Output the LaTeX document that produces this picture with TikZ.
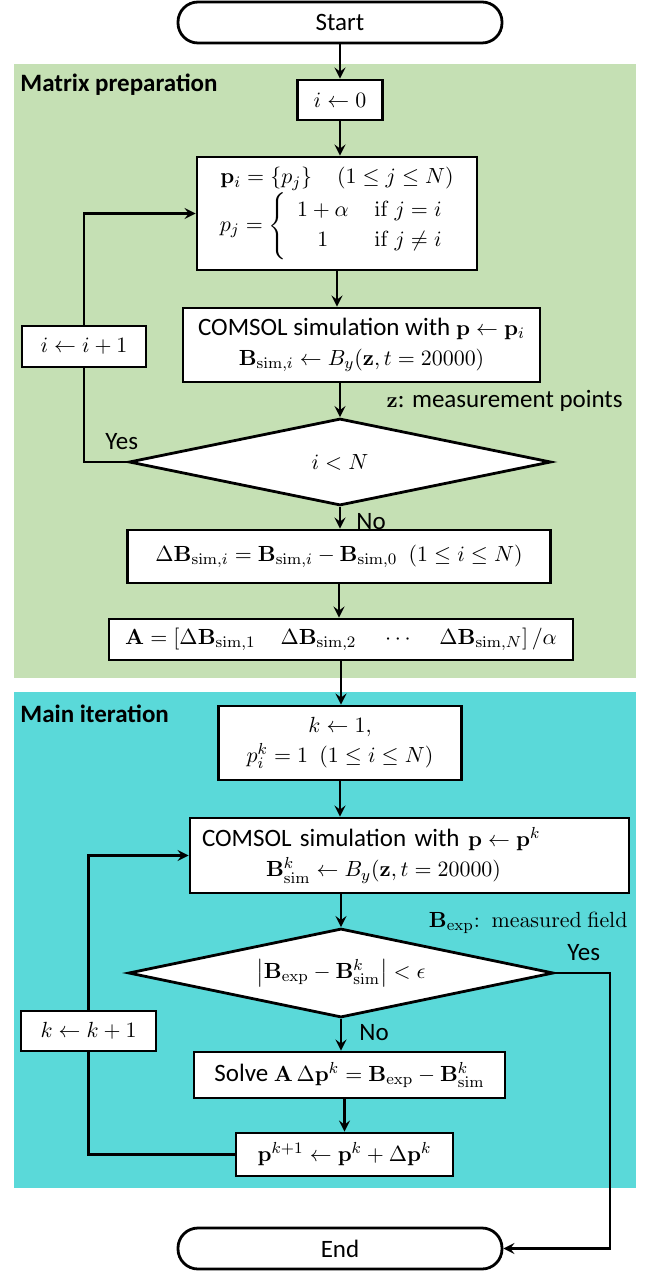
\documentclass[tikz,border=0pt]{standalone}
\usepackage{amsmath}
\usepackage{amssymb}
\usepackage[no-math]{fontspec}
\setmainfont{Carlito}
\usepackage{tikz}
\usetikzlibrary{shapes.geometric, arrows, positioning}
\definecolor{prepgreen}{RGB}{197,224,180}
\definecolor{itercyan}{RGB}{90,217,217}
\DeclareMathSizes{12.5}{11.2}{8}{6}
\newcommand{\boxfont}{\fontsize{12.5}{15}\selectfont}
\tikzset{
    terminal/.style={rectangle, rounded corners=10pt, minimum width=162pt, minimum height=20.5pt, align=center, draw=black, fill=white, line width=1.4pt, font=\boxfont},
    process/.style={rectangle, align=center, draw=black, fill=white, line width=1.4pt, inner sep=2pt, font=\boxfont},
    decision/.style={diamond, aspect=4.8, align=center, draw=black, fill=white, line width=1.4pt, inner sep=0pt, font=\boxfont},
    tag/.style={inner sep=0pt, font=\boxfont},
    arrow/.style={line width=1.4pt,->,>=stealth},
    link/.style={line width=1.4pt}
}

\begin{document}
\begin{tikzpicture}
    \begin{scope}[x=0.5pt, y=-0.5pt]
        \useasboundingbox (0,0) rectangle (650,1272);
        % Backgrounds
        \fill[prepgreen] (14,64) rectangle (636,678);
        \fill[itercyan] (14,692) rectangle (636,1188);
        \node[tag, anchor=west, font=\boxfont\bfseries] (prep) at (20,85) {Matrix preparation};
        \node[tag, anchor=west, font=\boxfont\bfseries] (iter) at (20,714) {Main iteration};

        % Matrix preparation
        \node[terminal] (start) at (340,22.5) {Start};
        \node[process, minimum width=42.5pt, minimum height=20pt] (init) at (340,100) {$i \leftarrow 0$};
        \node[process, minimum width=140pt, minimum height=56.5pt] (param) at (337,213.5)
            {$\mathbf{p}_i=\{p_j\}\quad(1\le j\le N)$\\
             $p_j=\left\{\begin{array}{cl}1+\alpha & \ \mathrm{if}\ j=i\\ 1 & \ \mathrm{if}\ j\neq i\end{array}\right.$};
        \node[process, minimum width=178.5pt, minimum height=37pt] (sim1) at (361.5,345)
            {COMSOL simulation with $\mathbf{p}\leftarrow\mathbf{p}_i$\\
             $\mathbf{B}_{\mathrm{sim},i}\leftarrow B_y(\mathbf{z},t=20000)$};
        \node[process, minimum width=62pt, minimum height=20.5pt] (inc1) at (84,346.5) {$i\leftarrow i+1$};
        \node[tag, anchor=east] (zpts) at (623,401) {$\mathbf{z}$: measurement points};
        \node[decision, minimum width=211pt, minimum height=43.5pt] (dec1) at (340,462) {$i<N$};
        \node[tag, anchor=west] (yes1) at (105,442) {Yes};
        \node[tag, anchor=west] (no1) at (356,522) {No};
        \node[process, minimum width=211.5pt, minimum height=26.5pt] (diff) at (339,556.5)
            {$\Delta\mathbf{B}_{\mathrm{sim},i}=\mathbf{B}_{\mathrm{sim},i}-\mathbf{B}_{\mathrm{sim},0}\ \ (1\le i\le N)$};
        \node[process, minimum width=232pt, minimum height=20.5pt] (matA) at (341,639.5)
            {$\mathbf{A}=\left[\Delta\mathbf{B}_{\mathrm{sim},1}\quad\Delta\mathbf{B}_{\mathrm{sim},2}\quad\cdots\quad\Delta\mathbf{B}_{\mathrm{sim},N}\right]/\alpha$};

        % Main iteration
        \node[process, minimum width=121.5pt, minimum height=37pt] (init2) at (340,743)
            {$k\leftarrow 1,$\\ $p_i^k=1\ \ (1\le i\le N)$};
        \node[process, text width=207.5pt, inner xsep=6pt, minimum height=37.5pt, align=left] (sim2) at (409.5,855.5)
            {COMSOL simulation with $\mathbf{p}\leftarrow\mathbf{p}^k$\\
             \hspace*{32pt}$\mathbf{B}^k_{\mathrm{sim}}\leftarrow B_y(\mathbf{z},t=20000)$};
        \node[tag, anchor=east] (bexp) at (628,923) {$\mathbf{B}_{\mathrm{exp}}\mathrm{:\ measured\ field}$};
        \node[decision, minimum width=212.5pt, minimum height=44.5pt] (dec2) at (341,973)
            {$\left|\mathbf{B}_{\mathrm{exp}}-\mathbf{B}^k_{\mathrm{sim}}\right|<\epsilon$};
        \node[tag, anchor=west] (yes2) at (567,953) {Yes};
        \node[tag, anchor=west] (no2) at (359,1033) {No};
        \node[process, minimum width=67.5pt, minimum height=20pt] (inc2) at (88.5,1031) {$k\leftarrow k+1$};
        \node[process, minimum width=155.5pt, minimum height=23pt] (solve) at (349.5,1075)
            {Solve $\mathbf{A}\,\Delta\mathbf{p}^k=\mathbf{B}_{\mathrm{exp}}-\mathbf{B}^k_{\mathrm{sim}}$};
        \node[process, minimum width=108.5pt, minimum height=21.5pt] (update) at (344.5,1154.5)
            {$\mathbf{p}^{k+1}\leftarrow\mathbf{p}^k+\Delta\mathbf{p}^k$};
        \node[terminal] (end) at (340,1248.5) {End};

        % Connectors
        \draw[arrow] (start.south) -- (start.south |- init.north);
        \draw[arrow] (init.south) -- (init.south |- param.north);
        \draw[arrow] (param.south) -- (param.south |- sim1.north);
        \draw[arrow] (dec1.north |- sim1.south) -- (dec1.north);
        \draw[link] (dec1.west) -| (inc1.south);
        \draw[arrow] (inc1.north) |- (param.west);
        \draw[arrow] (dec1.south) -- (dec1.south |- diff.north);
        \draw[arrow] (diff.south) -- (diff.south |- matA.north);
        \draw[arrow] (matA.south) -- (matA.south |- init2.north);
        \draw[arrow] (init2.south) -- (init2.south |- sim2.north);
        \draw[arrow] (dec2.north |- sim2.south) -- (dec2.north);
        \draw[arrow] (dec2.south) -- (dec2.south |- solve.north);
        \draw[arrow] (update.north |- solve.south) -- (update.north);
        \draw[link] (update.west) -| (inc2.south);
        \draw[arrow] (inc2.north) |- (sim2.west);
        \draw[arrow] (dec2.east) -- ++(55,0) |- (end.east);
    \end{scope}
\end{tikzpicture}
\end{document}
